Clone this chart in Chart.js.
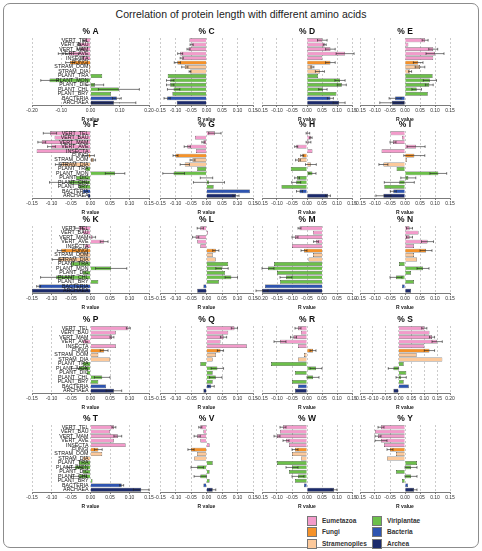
<!DOCTYPE html>
<html>
<head>
<meta charset="utf-8">
<script src="https://cdn.jsdelivr.net/npm/chart.js@4.4.0/dist/chart.umd.min.js"></script>
<style>
  body { margin: 0; width: 482px; height: 551px; background: #fff; position: relative; overflow: hidden;
         font-family: "Liberation Sans", Arial, sans-serif; }
  #frame { position: absolute; left: 3px; top: 3px; width: 474px; height: 543px; border: 1px solid #8c8c8c; border-radius: 7px; }
  #title { position: absolute; left: 0; top: 8px; width: 482px; text-align: center; font-size: 10.5px; color: #222; }
  canvas { position: absolute; }
  .li { position: absolute; font-size: 6.5px; font-weight: bold; color: #333; line-height: 9px; }
  .sw { position: absolute; left: -15px; top: 0; width: 8px; height: 8px; border: 0.6px solid #777; }
</style>
</head>
<body>
<div id="frame"></div>
<div id="title">Correlation of protein length with different amino acids</div>
<div id="legend"></div>
<script>
// categories (top to bottom) and their group
const categories = ['VERT_TEL','VERT_BAU','VERT_MAM','VERT_AVE','INSECTA','FUNGI','STRAM_OOM','STRAM_DIA',
                    'PLANT_TRA','PLANT_MON','PLANT_DIC','PLANT_CHL','PLANT_BRY','BACTERIA','ARCHAEA'];
const groupOf = [0,0,0,0,0,1,2,2,3,3,3,3,3,4,5];
const groupNames = ['Eumetazoa','Fungi','Stramenopiles','Viriplantae','Bacteria','Archea'];
const groupColors = ['#f39bcb','#f5922a','#fcc99b','#6cc04a','#2e54b0','#1b2a6b'];

// R values and error per amino acid
const valA = [-0.02,-0.04,-0.035,-0.075,-0.03,-0.07,-0.005,-0.005,0.04,-0.14,0.015,0.097,0.07,0.09,0.08];
const errA = [0.005,0.005,0.01,0.035,0.005,0.015,0,0,0,0.03,0.03,0.07,0,0.015,0.075];
const valC = [-0.055,-0.048,-0.058,-0.085,-0.08,-0.094,-0.07,-0.053,-0.125,-0.117,-0.117,-0.106,-0.11,-0.127,-0.096];
const errC = [0,0.005,0.005,0.008,0.005,0.01,0.01,0.003,0,0.012,0.012,0.02,0,0.01,0];
const valD = [0.051,0.059,0.078,0.127,0.051,0.078,0.018,0.043,0.037,0.11,0.116,0.053,0.098,0.078,0.107];
const errD = [0.016,0.005,0.016,0.03,0,0.016,0.005,0.015,0,0.017,0.015,0.014,0,0.01,0.02];
const valE = [0.067,0.011,0.094,0.1,0.094,0.044,0.05,0.017,0.092,0.083,0.081,0.039,0.076,-0.033,-0.044];
const errE = [0.01,0,0.015,0.03,0,0.016,0.016,0.005,0,0.022,0.013,0.016,0,0.02,0.04];
const valF = [-0.104,-0.092,-0.125,-0.1,-0.138,-0.005,0.008,-0.075,-0.013,0.063,-0.037,-0.055,-0.03,-0.02,-0.007];
const errF = [0.017,0,0.01,0.01,0,0.015,0.005,0.015,0,0.025,0,0.05,0,0,0];
const valG = [0.027,-0.037,-0.01,-0.062,-0.034,-0.1,-0.045,-0.07,-0.03,-0.106,0.0,0.008,0.023,0.14,0.095];
const errG = [0.02,0,0.005,0.01,0,0.008,0.008,0.015,0,0.035,0.02,0.05,0,0,0.01];
const valH = [0.003,0.013,0.005,-0.036,0.018,-0.016,-0.03,0.013,-0.054,0.018,-0.033,-0.036,-0.085,-0.025,0.07];
const errH = [0.006,0.004,0.008,0.005,0,0.005,0.008,0.018,0,0.012,0.008,0.015,0,0.01,0.008];
const valI = [-0.048,-0.01,-0.04,0.037,-0.078,0.031,0.006,-0.072,-0.028,0.111,0.011,-0.019,-0.069,-0.039,-0.072];
const errI = [0,0,0.01,0.03,0,0.035,0,0.015,0,0.028,0.025,0.05,0,0.01,0.025];
const valK = [-0.03,-0.02,0.005,0.035,-0.015,-0.075,-0.03,-0.083,-0.05,0.053,-0.02,-0.088,0.02,-0.133,-0.15];
const errK = [0.01,0,0.008,0.01,0,0.01,0,0.015,0,0.04,0,0.04,0,0.005,0];
const valL = [-0.02,0.005,-0.035,-0.03,-0.02,0.03,0.02,0.03,0.07,0.05,0.06,0.08,0.04,-0.01,-0.03];
const errL = [0.01,0,0.01,0,0,0.01,0,0,0,0.02,0,0.02,0,0,0];
const valM = [-0.075,-0.03,-0.09,-0.02,-0.1,-0.06,-0.03,-0.045,-0.16,-0.18,-0.15,-0.12,-0.14,-0.19,-0.2];
const errM = [0.005,0,0.01,0.008,0,0.01,0,0,0,0.02,0,0.02,0,0,0.02];
const valN = [0.015,0.045,0.015,0.075,0.03,0.07,0.03,0.04,-0.02,0.06,0.02,-0.03,0.03,-0.01,0.02];
const errN = [0.01,0,0.01,0.02,0,0.02,0,0,0,0.02,0,0.02,0,0,0];
const valP = [0.097,0.065,0.055,-0.02,0.065,0.035,0.02,0.05,-0.02,-0.03,-0.01,0.03,0.02,0.04,0.06];
const errP = [0.005,0,0.005,0,0,0.01,0,0,0,0.02,0,0.02,0,0,0.02];
const valQ = [0.09,0.07,0.055,0.045,0.13,0.045,0.03,0.02,-0.02,0.035,0.02,0.03,0.02,0.015,-0.01];
const errQ = [0.01,0,0.01,0,0,0.01,0,0,0,0.02,0,0.02,0,0.01,0];
const valR = [-0.03,-0.02,-0.045,-0.09,-0.03,0.02,-0.01,-0.03,-0.12,0.03,-0.04,0.02,-0.05,-0.03,-0.04];
const errR = [0.01,0,0.01,0.02,0,0.01,0,0,0,0.02,0,0.02,0,0,0];
const valS = [0.1,0.12,0.13,0.15,0.1,0.12,0.07,0.17,0.02,-0.02,0.03,0.01,0.02,0.04,-0.02];
const errS = [0.01,0,0.01,0.02,0,0.02,0,0,0,0.02,0,0.02,0,0,0];
const valT = [0.06,0.05,0.07,0.06,0.09,0.02,0.03,-0.02,-0.03,-0.04,-0.02,-0.03,0.005,0.08,0.13];
const errT = [0.005,0,0.01,0,0,0.01,0,0,0,0.02,0,0.02,0,0.005,0.02];
const valV = [-0.02,-0.01,-0.03,-0.02,0.01,-0.05,-0.03,-0.04,0.02,-0.03,0.01,-0.02,0.01,-0.01,0.02];
const errV = [0.005,0,0.01,0,0,0.01,0,0,0,0.02,0,0.02,0,0,0.01];
const valW = [-0.08,-0.09,-0.1,-0.07,-0.06,-0.04,-0.05,-0.02,-0.1,-0.05,-0.06,-0.03,-0.04,-0.01,0.09];
const errW = [0.01,0,0.01,0.01,0,0.01,0,0,0,0.02,0,0.02,0,0,0.01];
const valY = [-0.08,-0.1,-0.09,-0.08,-0.07,-0.05,-0.03,-0.06,0.04,0.02,-0.03,0.02,-0.01,0.01,0.03];
const errY = [0.01,0,0.01,0.02,0,0.01,0,0,0,0.02,0,0.02,0,0,0.01];

// x ranges of the panels: [min, max, step]
const rangeOf = { A: [-0.2, 0.2, 0.1], M: [-0.2, 0.1, 0.05], S: [-0.15, 0.2, 0.05] };
const defaultRange = [-0.15, 0.15, 0.05];

const panels = [
  ['A', valA, errA], ['C', valC, errC], ['D', valD, errD], ['E', valE, errE],
  ['F', valF, errF], ['G', valG, errG], ['H', valH, errH], ['I', valI, errI],
  ['K', valK, errK], ['L', valL, errL], ['M', valM, errM], ['N', valN, errN],
  ['P', valP, errP], ['Q', valQ, errQ], ['R', valR, errR], ['S', valS, errS],
  ['T', valT, errT], ['V', valV, errV], ['W', valW, errW], ['Y', valY, errY]
];

const colLeft = [32, 160, 262, 360];
const colWidth = [117, 93, 90, 90];
const rowTop = [38, 131, 226, 326, 425];
const plotH = 67;
const pad = 13, titleH = 11, axisH = 19;

const errorBars = {
  id: 'errorBars',
  afterDatasetsDraw(chart) {
    const { ctx, scales: { x } } = chart;
    const ds = chart.data.datasets[0];
    const meta = chart.getDatasetMeta(0);
    ctx.save();
    ctx.strokeStyle = '#222';
    ctx.lineWidth = 0.6;
    meta.data.forEach((bar, i) => {
      const e = ds.errs[i];
      if (!e) return;
      const x1 = x.getPixelForValue(ds.data[i] - e);
      const x2 = x.getPixelForValue(ds.data[i] + e);
      const y = bar.y;
      ctx.beginPath();
      ctx.moveTo(x1, y); ctx.lineTo(x2, y);
      ctx.moveTo(x1, y - 1.3); ctx.lineTo(x1, y + 1.3);
      ctx.moveTo(x2, y - 1.3); ctx.lineTo(x2, y + 1.3);
      ctx.stroke();
    });
    ctx.restore();
  }
};

// category names next to the zero line, first column only
const catNames = {
  id: 'catNames',
  afterDatasetsDraw(chart) {
    if (!chart.data.datasets[0].showNames) return;
    const { ctx, scales: { x } } = chart;
    const x0 = x.getPixelForValue(0) - 2;
    ctx.save();
    ctx.font = '5.3px "Liberation Sans", Arial, sans-serif';
    ctx.fillStyle = '#111';
    ctx.textAlign = 'right';
    ctx.textBaseline = 'middle';
    chart.getDatasetMeta(0).data.forEach((bar, i) => ctx.fillText(categories[i], x0, bar.y));
    ctx.restore();
  }
};

function fmt(v) {
  return (Math.round(v * 100) / 100).toFixed(2);
}

panels.forEach(([letter, vals, errs], k) => {
  const col = k % 4, row = Math.floor(k / 4);
  const [min, max, step] = rangeOf[letter] || defaultRange;
  const cv = document.createElement('canvas');
  cv.width = colWidth[col] + 2 * pad;
  cv.height = titleH + plotH + axisH;
  cv.style.left = (colLeft[col] - pad) + 'px';
  cv.style.top = (rowTop[row] - titleH) + 'px';
  document.body.appendChild(cv);
  new Chart(cv, {
    type: 'bar',
    data: {
      labels: categories,
      datasets: [{
        data: vals,
        errs: errs,
        showNames: col === 0,
        backgroundColor: groupOf.map(g => groupColors[g]),
        borderColor: '#222',
        borderWidth: 0.5,
        barPercentage: 0.86,
        categoryPercentage: 1
      }]
    },
    options: {
      responsive: false,
      animation: false,
      indexAxis: 'y',
      layout: { padding: { left: pad, right: pad, top: 0, bottom: 0 } },
      plugins: {
        legend: { display: false },
        tooltip: { enabled: false },
        title: {
          display: true, text: '% ' + letter, color: '#111',
          font: { size: 8.5, weight: 'bold', lineHeight: 1, family: '"Liberation Sans", Arial, sans-serif' },
          padding: { top: 0.5, bottom: 2 }
        }
      },
      scales: {
        x: {
          min: min, max: max,
          afterFit: s => { s.height = axisH; },
          ticks: { stepSize: step, autoSkip: false, maxRotation: 0, padding: 1, color: '#333',
                   font: { size: 5, family: '"Liberation Sans", Arial, sans-serif' }, callback: v => fmt(v) },
          grid: { color: '#a8a8a8', lineWidth: 0.6, tickLength: 2, tickColor: '#222', tickWidth: 0.6 },
          border: { display: true, color: '#222', width: 0.6, dash: [2, 2] },
          title: { display: true, text: 'R value', color: '#222', padding: { top: 0, bottom: 1 },
                   font: { size: 5, weight: 'bold', family: '"Liberation Sans", Arial, sans-serif' } }
        },
        y: { display: false }
      }
    },
    plugins: [errorBars, catNames]
  });
});

// legend
const legendPos = [[322, 516], [322, 527], [322, 539], [387, 516], [387, 527], [387, 539]];
const legend = document.getElementById('legend');
groupNames.forEach((name, g) => {
  const d = document.createElement('div');
  d.className = 'li';
  d.style.left = legendPos[g][0] + 'px';
  d.style.top = legendPos[g][1] + 'px';
  d.innerHTML = '<span class="sw" style="background:' + groupColors[g] + '"></span>' + name;
  legend.appendChild(d);
});
</script>
</body>
</html>
